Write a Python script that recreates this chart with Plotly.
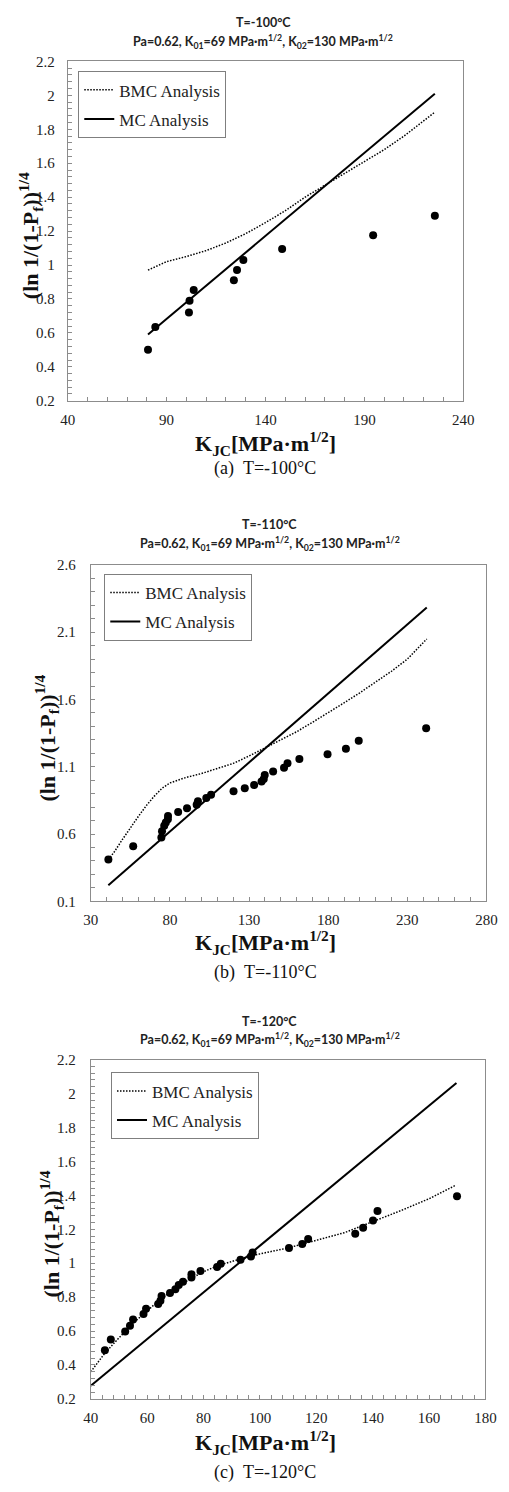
import plotly.graph_objects as go

# ---------------- data: panel (a) T=-100°C ----------------
a_pts_k = [80.6, 84.3, 101.3, 101.6, 103.7, 124.0, 125.6, 128.8, 148.4, 194.4, 225.6]
a_pts_v = [0.50, 0.635, 0.72, 0.79, 0.853, 0.91, 0.97, 1.03, 1.095, 1.175, 1.29]
a_mc_k = [80.6, 225.6]
a_mc_v = [0.59, 2.01]
a_bmc_k = [80.6, 90, 100, 110, 120, 130, 140, 150, 160, 170, 180, 190, 200, 210, 225.5]
a_bmc_v = [0.97, 1.02, 1.05, 1.085, 1.13, 1.185, 1.25, 1.32, 1.40, 1.47, 1.54, 1.61, 1.68, 1.76, 1.90]

# ---------------- data: panel (b) T=-110°C ----------------
b_pts_k = [41.1, 56.8, 74.6, 75.0, 76.4, 77.4, 78.7, 78.8, 85.2, 90.8, 96.9, 97.7, 103.0, 106.0,
           120.2, 127.3, 133.2, 137.9, 139.3, 139.9, 145.2, 152.1, 154.3, 161.8, 179.6, 191.2, 199.3, 241.9]
b_pts_v = [0.41, 0.51, 0.575, 0.62, 0.661, 0.686, 0.71, 0.734, 0.764, 0.791, 0.818, 0.843, 0.867, 0.892,
           0.918, 0.94, 0.965, 0.99, 1.01, 1.039, 1.065, 1.093, 1.127, 1.157, 1.193, 1.234, 1.293, 1.387]
b_mc_k = [41.1, 242.3]
b_mc_v = [0.22, 2.284]
b_bmc_k = [41.1, 45, 50, 55, 60, 65, 70, 75, 80, 85, 90, 100, 110, 120, 130, 140, 150, 160, 170,
           180, 190, 200, 210, 220, 230, 242.3]
b_bmc_v = [0.41, 0.47, 0.56, 0.65, 0.73, 0.81, 0.88, 0.94, 0.98, 1.00, 1.02, 1.05, 1.085, 1.125, 1.18,
           1.24, 1.30, 1.36, 1.43, 1.50, 1.575, 1.65, 1.73, 1.81, 1.90, 2.05]

# ---------------- data: panel (c) T=-120°C ----------------
c_pts_k = [45.0, 47.1, 52.2, 53.9, 55.0, 58.7, 59.6, 63.9, 64.7, 65.1, 68.1, 70.0, 71.2, 72.7, 75.7,
           75.7, 78.9, 84.8, 86.1, 93.1, 96.8, 97.4, 110.3, 115.0, 117.1, 133.8, 136.6, 140.1, 141.7, 169.9]
c_pts_v = [0.487, 0.55, 0.597, 0.631, 0.668, 0.701, 0.731, 0.76, 0.779, 0.806, 0.825, 0.847, 0.871, 0.89,
           0.915, 0.935, 0.954, 0.978, 0.997, 1.02, 1.04, 1.063, 1.09, 1.113, 1.142, 1.174, 1.209, 1.252,
           1.308, 1.395]
c_mc_k = [40, 169.7]
c_mc_v = [0.278, 2.062]
c_bmc_k = [40, 45, 50, 55, 60, 65, 70, 75, 80, 85, 90, 95, 100, 110, 120, 130, 140, 150, 160, 169.5]
c_bmc_v = [0.36, 0.47, 0.56, 0.645, 0.72, 0.79, 0.85, 0.905, 0.95, 0.985, 1.01, 1.035, 1.055, 1.09,
           1.135, 1.18, 1.245, 1.31, 1.38, 1.46]

W, H = 509, 1492
SERIF = "Liberation Serif"
SANS = "Lato"
AXC = "#8c8c8c"


def px(x):
    return x / W


def py(y):
    return 1 - y / H


panels = [
    dict(k=a_pts_k, v=a_pts_v, mck=a_mc_k, mcv=a_mc_v, bk=a_bmc_k, bv=a_bmc_v,
         xr=[40, 240], xd=50, xm=10, yr=[0.2, 2.2], yd=0.2, ym=0.04,
         box=(62, 473, 54, 397), leg=(73, 64), temp="-100", cap="(a)",
         t1=15, t2=34, tcx=265, ytx=23, xty=440, capy=465, ylab_gap=9),
    dict(k=b_pts_k, v=b_pts_v, mck=b_mc_k, mcv=b_mc_v, bk=b_bmc_k, bv=b_bmc_v,
         xr=[30, 280], xd=50, xm=10, yr=[0.1, 2.6], yd=0.5, ym=0.1,
         box=(86, 497, 563, 903), leg=(100, 572), temp="-110", cap="(b)",
         t1=522, t2=541, tcx=272, ytx=40, xty=945, capy=975, ylab_gap=11),
    dict(k=c_pts_k, v=c_pts_v, mck=c_mc_k, mcv=c_mc_v, bk=c_bmc_k, bv=c_bmc_v,
         xr=[40, 180], xd=20, xm=4, yr=[0.2, 2.2], yd=0.2, ym=0.04,
         box=(86, 496, 1063, 1406), leg=(107, 1076), temp="-120", cap="(c)",
         t1=1024, t2=1043, tcx=272, ytx=45, xty=1450, capy=1480, ylab_gap=11),
]

fig = go.Figure()
annotations = []
layout = dict(width=W, height=H, margin=dict(l=0, r=0, t=0, b=0),
              font=dict(family=SERIF, color="#222"),
              paper_bgcolor="white", plot_bgcolor="white", showlegend=True)


def ann(text, x, y, font, **kw):
    d = dict(text=text, x=px(x), y=py(y), xref="paper", yref="paper", showarrow=False,
             xanchor="center", yanchor="middle", font=font)
    d.update(kw)
    return d


for i, p in enumerate(panels, start=1):
    sfx = "" if i == 1 else str(i)
    xa, ya = "x" + sfx, "y" + sfx
    leg = "legend" + sfx
    fig.add_trace(go.Scatter(x=p["bk"], y=p["bv"], mode="lines", name="BMC Analysis",
                             line=dict(color="black", width=1.5, dash="1.5px,1.5px"),
                             xaxis=xa, yaxis=ya, legend=leg, legendgroup=f"bmc{i}"))
    fig.add_trace(go.Scatter(x=p["mck"], y=p["mcv"], mode="lines", name="MC Analysis",
                             line=dict(color="black", width=2),
                             xaxis=xa, yaxis=ya, legend=leg, legendgroup=f"mc{i}"))
    fig.add_trace(go.Scatter(x=p["k"], y=p["v"], mode="markers", name="data",
                             marker=dict(color="black", size=8),
                             xaxis=xa, yaxis=ya, showlegend=False))
    x0, x1, y0, y1 = p["box"]
    layout["xaxis" + sfx] = dict(
        domain=[px(x0), px(x1)], range=p["xr"], anchor=ya, dtick=p["xd"], tick0=p["xr"][0],
        showgrid=False, zeroline=False, showline=True, linecolor=AXC, linewidth=1, mirror=True,
        ticks="inside", ticklen=4, tickcolor=AXC,
        minor=dict(dtick=p["xm"], ticks="inside", ticklen=4, tickcolor=AXC, showgrid=False),
        tickfont=dict(family=SERIF, size=15, color="#222"), ticklabelstandoff=5)
    layout["yaxis" + sfx] = dict(
        domain=[py(y1), py(y0)], range=p["yr"], anchor=xa, dtick=p["yd"], tick0=p["yr"][0],
        showgrid=False, zeroline=False, showline=True, linecolor=AXC, linewidth=1, mirror=True,
        ticks="inside", ticklen=4, tickcolor=AXC,
        minor=dict(dtick=p["ym"], ticks="inside", ticklen=4, tickcolor=AXC, showgrid=False),
        tickfont=dict(family=SERIF, size=15, color="#222"), ticklabelstandoff=p["ylab_gap"])
    lx, ly = p["leg"]
    layout[leg] = dict(x=px(lx), y=py(ly), xanchor="left", yanchor="top",
                       bordercolor="#7f7f7f", borderwidth=1, bgcolor="white",
                       font=dict(family=SERIF, size=17, color="#222"),
                       traceorder="grouped", tracegroupgap=4, itemwidth=30)
    tfont = dict(family=SANS, size=12.5, color="#222")
    annotations.append(ann(f"<b>T={p['temp']}°C</b>", p["tcx"], p["t1"], tfont))
    annotations.append(ann(
        "<b>Pa=0.62, K<sub>01</sub>=69 MPa·m<sup>1/2</sup>, K<sub>02</sub>=130 MPa·m<sup>1/2</sup></b>",
        p["tcx"], p["t2"], tfont))
    annotations.append(ann("<b>K<sub>JC</sub>[MPa·m<sup>1/2</sup>]</b>", 267, p["xty"],
                           dict(family=SERIF, size=22, color="#111")))
    annotations.append(ann("<b>(ln 1/(1-P<sub>f</sub>))<sup>1/4</sup></b>", p["ytx"], (y0 + y1) / 2 + 5,
                           dict(family=SERIF, size=22, color="#111"), textangle=-90))
    annotations.append(ann(f"{p['cap']}\u00a0\u00a0T=" + p["temp"] + "°C", 267, p["capy"],
                           dict(family=SERIF, size=18, color="#111")))

layout["annotations"] = annotations
fig.update_layout(**layout)
fig.write_html("out.html")
